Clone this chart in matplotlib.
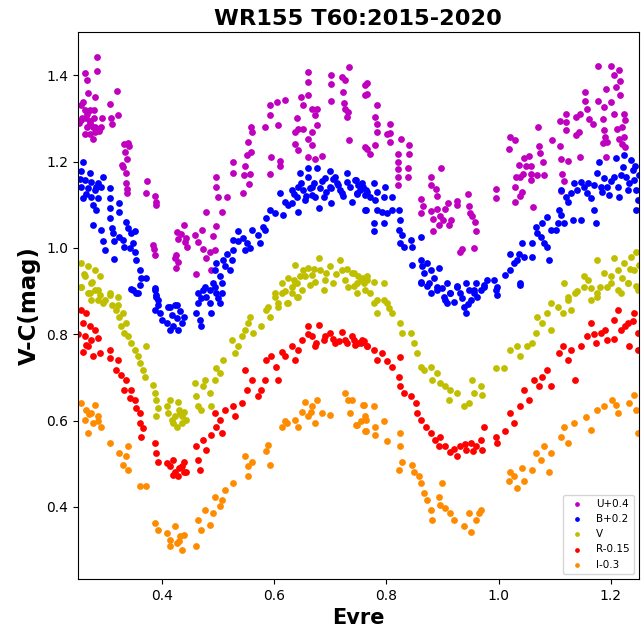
import matplotlib
matplotlib.use("Agg")
from matplotlib import pyplot as plt

# U+0.4
u_x = [0.262, 0.267, 0.268, 0.259, 0.262, 0.272, 0.281, 0.279, 0.256, 0.264, 0.272, 0.267, 0.276, 0.281, 0.287,
       0.262, 0.272, 0.281, 0.276, 0.284, 0.284, 0.307, 0.309, 0.310, 0.320, 0.322, 0.252, 0.255, 0.258, 0.266,
       0.271, 0.278, 0.283, 0.288, 0.291, 0.293,
       0.333, 0.339, 0.341, 0.334, 0.338, 0.328, 0.331, 0.336, 0.335, 0.337, 0.338,
       0.373, 0.371, 0.387, 0.390, 0.389, 0.384, 0.386, 0.388,
       0.439, 0.426, 0.434, 0.443, 0.429, 0.441, 0.445, 0.425, 0.429, 0.425, 0.423,
       0.458, 0.471, 0.464, 0.473, 0.479, 0.485, 0.494, 0.461, 0.488, 0.479, 0.491, 0.497, 0.506, 0.500, 0.516,
       0.497, 0.497,
       0.527, 0.527, 0.546, 0.548, 0.556, 0.551, 0.558, 0.554, 0.560, 0.559, 0.545, 0.555,
       0.584, 0.593, 0.593, 0.606, 0.605, 0.620, 0.594, 0.593, 0.611, 0.611,
       0.648, 0.661, 0.661, 0.661, 0.652, 0.667, 0.676, 0.673, 0.640, 0.643, 0.637, 0.652, 0.667, 0.661, 0.637,
       0.667, 0.643, 0.661, 0.673, 0.685, 0.676,
       0.702, 0.701, 0.702, 0.720, 0.726, 0.733, 0.722, 0.724, 0.726, 0.732, 0.729, 0.733, 0.762, 0.762, 0.762,
       0.765, 0.765, 0.783, 0.780, 0.783, 0.783, 0.780, 0.765, 0.771, 0.806, 0.801, 0.807, 0.806, 0.826, 0.841,
       0.820, 0.841, 0.820, 0.820, 0.838, 0.820, 0.820, 0.838,
       0.879, 0.879, 0.898, 0.888, 0.891, 0.862, 0.865, 0.862, 0.879, 0.883, 0.891, 0.896, 0.904, 0.893, 0.911,
       0.883, 0.900, 0.916, 0.910,
       0.926, 0.925, 0.946, 0.947, 0.949, 0.952, 0.958, 0.960, 0.935, 0.932, 0.956, 0.996, 0.996,
       1.020, 1.030, 1.018, 1.045, 1.054, 1.036, 1.048, 1.057, 1.031, 1.038, 1.044, 1.057, 1.029, 1.041, 1.038,
       1.029, 1.062, 1.057,
       1.071, 1.072, 1.074, 1.080, 1.081, 1.069, 1.096, 1.109, 1.109, 1.111, 1.113, 1.117, 1.123, 1.121, 1.121,
       1.138, 1.138, 1.121, 1.112,
       1.145, 1.144, 1.145, 1.154, 1.154, 1.157, 1.162, 1.168, 1.177, 1.177, 1.188, 1.186, 1.191, 1.188, 1.190,
       1.186, 1.194,
       1.200, 1.205, 1.214, 1.217, 1.200, 1.191, 1.205, 1.210, 1.217, 1.223, 1.220, 1.223, 1.226, 1.215, 1.220,
       1.226, 1.211]
u_y = [1.404, 1.388, 1.358, 1.339, 1.320, 1.320, 1.350, 1.320, 1.297, 1.300, 1.293, 1.280, 1.280, 1.280, 1.276,
       1.265, 1.265, 1.268, 1.253, 1.442, 1.410, 1.333, 1.302, 1.287, 1.364, 1.307, 1.290, 1.330, 1.300, 1.310,
       1.290, 1.300, 1.270, 1.270, 1.280, 1.300,
       1.241, 1.243, 1.236, 1.222, 1.205, 1.192, 1.188, 1.173, 1.150, 1.136, 1.128,
       1.156, 1.127, 1.121, 1.106, 1.100, 1.007, 0.997, 0.984,
       1.052, 1.036, 1.032, 1.024, 1.020, 1.013, 1.002, 0.983, 0.968, 0.953, 0.976,
       1.030, 1.041, 1.013, 0.997, 0.976, 0.991, 0.995, 0.940, 0.948, 1.083, 1.027, 1.050, 1.083, 1.117, 1.117,
       1.140, 1.165,
       1.199, 1.174, 1.168, 1.190, 1.171, 1.215, 1.222, 1.245, 1.268, 1.280, 1.128, 1.147,
       1.280, 1.307, 1.330, 1.284, 1.338, 1.343, 1.211, 1.172, 1.202, 1.190,
       1.350, 1.408, 1.385, 1.354, 1.330, 1.322, 1.322, 1.307, 1.300, 1.276, 1.268, 1.276, 1.268, 1.253, 1.241,
       1.238, 1.226, 1.211, 1.207, 1.213, 1.284,
       1.400, 1.379, 1.340, 1.395, 1.389, 1.420, 1.360, 1.336, 1.322, 1.314, 1.303, 1.250, 1.377, 1.354, 1.233,
       1.381, 1.356, 1.331, 1.303, 1.288, 1.268, 1.238, 1.228, 1.217, 1.288, 1.264, 1.266, 1.245, 1.252, 1.239,
       1.218, 1.218, 1.198, 1.183, 1.185, 1.164, 1.145, 1.165,
       1.164, 1.146, 1.184, 1.137, 1.120, 1.113, 1.097, 1.082, 1.086, 1.067, 1.090, 1.075, 1.090, 1.052, 1.054,
       1.039, 1.064, 1.064, 1.105,
       1.109, 1.099, 1.124, 1.096, 1.082, 1.074, 1.059, 1.039, 0.997, 0.990, 0.999, 1.136, 1.116,
       1.258, 1.250, 1.229, 1.209, 1.214, 1.192, 1.189, 1.189, 1.164, 1.164, 1.172, 1.157, 1.141, 1.130, 1.120,
       1.107, 1.095, 1.172,
       1.280, 1.236, 1.220, 1.198, 1.170, 1.170, 1.249, 1.294, 1.236, 1.205, 1.172, 1.155, 1.201, 1.272, 1.291,
       1.303, 1.262, 1.311, 1.131,
       1.311, 1.268, 1.210, 1.360, 1.341, 1.322, 1.299, 1.288, 1.421, 1.341, 1.327, 1.299, 1.368, 1.272, 1.257,
       1.242, 1.245,
       1.421, 1.400, 1.412, 1.387, 1.338, 1.210, 1.311, 1.372, 1.354, 1.311, 1.280, 1.257, 1.296, 1.253, 1.241,
       1.234, 1.276]

# B+0.2
b_x = [0.259, 0.256, 0.271, 0.262, 0.274, 0.286, 0.295, 0.256, 0.268, 0.280, 0.292, 0.259, 0.274, 0.286, 0.277,
       0.283, 0.307, 0.307, 0.307, 0.324, 0.324, 0.307, 0.277, 0.292, 0.310, 0.312, 0.295, 0.298, 0.315, 0.324,
       0.330, 0.336, 0.339, 0.345, 0.351, 0.333, 0.342, 0.348, 0.351, 0.315, 0.354, 0.360, 0.363, 0.372, 0.360,
       0.345, 0.354, 0.387, 0.390, 0.393, 0.414, 0.426,
       0.348, 0.357, 0.387, 0.390, 0.393, 0.387, 0.396, 0.399, 0.408, 0.411, 0.417, 0.423, 0.426, 0.429, 0.432,
       0.435, 0.440, 0.414, 0.420, 0.461, 0.464, 0.467, 0.470, 0.473, 0.479, 0.485, 0.488, 0.494, 0.497, 0.503,
       0.506, 0.500,
       0.464, 0.470, 0.476, 0.485, 0.491, 0.494, 0.497, 0.503, 0.509, 0.512, 0.515, 0.524, 0.527, 0.521, 0.527,
       0.536, 0.506,
       0.536, 0.545, 0.551, 0.548, 0.557, 0.560, 0.571, 0.574, 0.580, 0.583, 0.586, 0.592, 0.601, 0.610, 0.616,
       0.619, 0.631, 0.631, 0.640, 0.643, 0.643, 0.646, 0.652, 0.655, 0.661, 0.664, 0.667, 0.670, 0.673, 0.676,
       0.679, 0.682, 0.688, 0.690, 0.699, 0.699, 0.702, 0.708, 0.711, 0.717, 0.720, 0.729, 0.729, 0.738, 0.744,
       0.750, 0.753, 0.759, 0.762, 0.762, 0.702, 0.661,
       0.625, 0.635, 0.648, 0.657, 0.668, 0.685, 0.693, 0.705, 0.714, 0.723, 0.735, 0.748, 0.757, 0.766,
       0.745, 0.754, 0.748, 0.763, 0.771, 0.777, 0.780, 0.783, 0.798, 0.795, 0.810, 0.763, 0.783, 0.792, 0.801,
       0.810, 0.777, 0.795, 0.822, 0.825, 0.777, 0.822, 0.828, 0.825, 0.831, 0.843, 0.846, 0.861, 0.846, 0.861,
       0.864, 0.867, 0.873, 0.879, 0.861, 0.876, 0.884, 0.890, 0.893, 0.899, 0.908, 0.914, 0.926, 0.932, 0.941,
       0.947, 0.956, 0.959, 0.968, 0.974, 0.980, 0.992, 0.998,
       0.861, 0.873, 0.879, 0.890, 0.902, 0.908, 0.914, 0.926, 0.938, 0.941, 0.950, 0.956, 0.962, 0.974, 0.995,
       0.998, 1.039, 0.905, 0.920, 0.935, 0.945,
       1.012, 1.021, 1.027, 1.021, 1.033, 1.039, 1.042, 1.036, 1.045, 1.060, 1.060, 1.069, 1.066, 1.075, 1.078,
       1.081, 1.087, 1.090, 1.087, 1.093, 1.102, 1.105, 1.108, 1.111, 1.117, 1.111, 1.120, 1.123, 1.129, 1.132,
       1.135, 1.146, 1.140, 1.146, 1.152, 1.158, 1.164, 1.170, 1.173, 1.170, 1.176, 1.179, 1.182, 1.188, 1.194,
       1.197, 1.206, 1.209, 1.212, 1.215, 1.221, 1.224, 1.227, 1.230, 1.236, 1.239, 1.242, 1.245, 1.248, 1.245,
       1.160, 1.185, 1.200, 1.218, 1.233, 1.243, 1.250, 0.253, 0.265, 0.283]
b_y = [1.200, 1.177, 1.173, 1.157, 1.153, 1.150, 1.165, 1.142, 1.138, 1.134, 1.142, 1.115, 1.119, 1.115, 1.100,
       1.088, 1.138, 1.115, 1.092, 1.103, 1.084, 1.069, 1.053, 1.042, 1.046, 1.034, 1.015, 0.995, 1.015, 1.026,
       1.019, 1.061, 1.046, 1.034, 1.038, 1.003, 0.999, 1.011, 0.991, 0.974, 0.972, 0.949, 0.930, 0.930, 0.914,
       0.904, 0.895, 0.903, 0.887, 0.868, 0.864, 0.868,
       0.903, 0.895, 0.907, 0.891, 0.880, 0.856, 0.849, 0.833, 0.826, 0.864, 0.845, 0.868, 0.837, 0.810, 0.853,
       0.826, 0.841, 0.810, 0.818, 0.849, 0.872, 0.833, 0.818, 0.903, 0.887, 0.872, 0.849, 0.910, 0.895, 0.872,
       0.918, 0.883,
       0.895, 0.883, 0.910, 0.903, 0.918, 0.949, 0.964, 0.934, 0.972, 0.957, 0.987, 0.972, 0.995, 0.949, 1.019,
       1.015, 0.895,
       1.038, 1.022, 1.011, 0.995, 0.999, 1.042, 1.030, 1.011, 1.049, 1.042, 1.069, 1.088, 1.080, 1.127, 1.076,
       1.107, 1.103, 1.134, 1.119, 1.142, 1.084, 1.173, 1.134, 1.111, 1.165, 1.138, 1.123, 1.150, 1.119, 1.184,
       1.092, 1.138, 1.119, 1.161, 1.177, 1.142, 1.103, 1.165, 1.150, 1.134, 1.127, 1.173, 1.153, 1.107, 1.157,
       1.146, 1.134, 1.142, 1.123, 1.088, 1.138, 1.184,
       1.100, 1.125, 1.150, 1.120, 1.140, 1.155, 1.130, 1.160, 1.145, 1.120, 1.140, 1.125, 1.150, 1.130,
       1.157, 1.142, 1.127, 1.134, 1.119, 1.150, 1.111, 1.130, 1.142, 1.119, 1.119, 1.088, 1.088, 1.084, 1.080,
       1.088, 1.057, 1.057, 1.088, 1.065, 1.038, 1.042, 1.030, 1.011, 1.003, 1.019, 1.003, 1.026, 0.961, 0.972,
       0.957, 0.941, 0.964, 0.949, 0.922, 0.918, 0.930, 0.910, 0.953, 0.906, 0.918, 0.895, 0.910, 0.895, 0.918,
       0.903, 0.895, 0.918, 0.903, 0.914, 0.926, 0.926, 0.910,
       0.918, 0.911, 0.895, 0.903, 0.887, 0.872, 0.895, 0.911, 0.864, 0.849, 0.880, 0.903, 0.887, 0.910, 0.903,
       0.891, 0.914, 0.880, 0.875, 0.885, 0.870,
       0.937, 0.949, 0.964, 0.987, 0.972, 0.918, 1.011, 0.987, 0.980, 0.980, 1.011, 1.034, 1.049, 1.026, 1.057,
       1.011, 1.003, 0.972, 1.072, 1.042, 1.042, 1.057, 1.088, 1.076, 1.057, 1.134, 1.119, 1.107, 1.127, 1.065,
       1.150, 1.065, 1.134, 1.153, 1.142, 1.127, 1.115, 1.146, 1.057, 1.088, 1.173, 1.200, 1.142, 1.161, 1.142,
       1.122, 1.165, 1.208, 1.142, 1.119, 1.188, 1.215, 1.165, 1.134, 1.204, 1.180, 1.157, 1.134, 1.111, 1.088,
       1.150, 1.130, 1.155, 1.170, 1.150, 1.190, 1.170, 1.160, 1.125, 1.140]

# V
v_x = [0.256, 0.268, 0.280, 0.289, 0.262, 0.274, 0.256, 0.286, 0.307, 0.321, 0.271, 0.298, 0.321,
       0.260, 0.275, 0.290,
       0.256, 0.268, 0.280, 0.286, 0.295, 0.274, 0.307, 0.310, 0.318, 0.324, 0.330, 0.327, 0.336, 0.333, 0.339,
       0.345, 0.351, 0.357, 0.360, 0.366, 0.372, 0.369, 0.384, 0.387, 0.390, 0.393, 0.390, 0.408, 0.411, 0.417,
       0.423, 0.426, 0.432, 0.435, 0.440, 0.443, 0.429, 0.414, 0.458, 0.461, 0.464, 0.470, 0.473, 0.476, 0.485,
       0.488, 0.494, 0.497, 0.503, 0.509, 0.524, 0.530, 0.536, 0.542, 0.548, 0.554, 0.557, 0.562, 0.577, 0.586,
       0.592, 0.601, 0.607, 0.613, 0.622, 0.631, 0.640, 0.637, 0.420, 0.435, 0.430,
       0.601, 0.607, 0.613, 0.625, 0.631, 0.637, 0.640, 0.646, 0.649, 0.652, 0.661, 0.664, 0.667, 0.673, 0.679,
       0.682, 0.688, 0.693, 0.699, 0.705, 0.717, 0.720, 0.726, 0.732, 0.738, 0.747, 0.759, 0.762, 0.589, 0.625,
       0.643, 0.620, 0.635, 0.655, 0.670, 0.690, 0.710, 0.730, 0.750, 0.765,
       0.742, 0.754, 0.765, 0.777, 0.748, 0.771, 0.795, 0.783, 0.801,
       0.742, 0.760, 0.777, 0.783, 0.795, 0.804, 0.810, 0.825, 0.828, 0.843, 0.849, 0.855, 0.861, 0.867, 0.879,
       0.882, 0.890, 0.896, 0.905, 0.914, 0.911, 0.926, 0.938, 0.947, 0.953, 0.956, 0.968, 0.971, 0.995, 1.010,
       1.021, 1.033, 1.039, 1.051, 1.060, 1.066, 1.069, 1.078, 1.087, 1.093, 1.105, 1.114, 1.123, 1.129, 1.137,
       1.152, 1.164, 1.176, 1.194, 1.212, 1.230, 1.245,
       1.117, 1.123, 1.152, 1.176, 1.188, 1.206, 1.212, 1.224, 1.236, 1.245, 1.242, 1.230, 1.200, 1.164, 1.248,
       1.093, 1.176, 1.218, 1.140, 1.160, 1.180, 1.200, 1.220, 1.235, 1.250]
v_y = [0.964, 0.957, 0.949, 0.934, 0.934, 0.918, 0.910, 0.903, 0.891, 0.887, 0.895, 0.880, 0.868,
       0.940, 0.920, 0.890,
       0.910, 0.895, 0.903, 0.880, 0.872, 0.880, 0.895, 0.868, 0.856, 0.841, 0.849, 0.818, 0.826, 0.803, 0.795,
       0.779, 0.764, 0.749, 0.733, 0.718, 0.772, 0.702, 0.683, 0.664, 0.648, 0.629, 0.610, 0.633, 0.617, 0.602,
       0.610, 0.586, 0.617, 0.594, 0.621, 0.602, 0.644, 0.648, 0.687, 0.656, 0.633, 0.625, 0.679, 0.694, 0.664,
       0.633, 0.694, 0.721, 0.710, 0.741, 0.787, 0.756, 0.772, 0.795, 0.810, 0.826, 0.841, 0.803, 0.818, 0.856,
       0.841, 0.887, 0.864, 0.895, 0.872, 0.910, 0.887, 0.918, 0.595, 0.610, 0.625,
       0.895, 0.872, 0.918, 0.930, 0.895, 0.961, 0.918, 0.934, 0.903, 0.949, 0.953, 0.914, 0.937, 0.922, 0.976,
       0.949, 0.903, 0.941, 0.957, 0.918, 0.972, 0.949, 0.926, 0.910, 0.941, 0.918, 0.930, 0.903, 0.864, 0.872,
       0.887, 0.900, 0.925, 0.935, 0.950, 0.925, 0.940, 0.950, 0.935, 0.925,
       0.941, 0.926, 0.934, 0.922, 0.895, 0.895, 0.918, 0.880, 0.872,
       0.911, 0.918, 0.872, 0.849, 0.880, 0.860, 0.849, 0.826, 0.802, 0.802, 0.779, 0.756, 0.725, 0.718, 0.725,
       0.695, 0.710, 0.687, 0.679, 0.671, 0.648, 0.663, 0.633, 0.641, 0.694, 0.664, 0.679, 0.660, 0.721, 0.721,
       0.764, 0.772, 0.749, 0.772, 0.779, 0.802, 0.841, 0.826, 0.849, 0.810, 0.864, 0.849, 0.880, 0.856, 0.895,
       0.910, 0.880, 0.895, 0.910, 0.903, 0.918, 0.911,
       0.918, 0.887, 0.934, 0.972, 0.941, 0.976, 0.949, 0.964, 0.980, 0.991, 0.949, 0.918, 0.918, 0.906, 0.903,
       0.872, 0.887, 0.895, 0.900, 0.925, 0.910, 0.935, 0.930, 0.950, 0.960]

# R-0.15
r_x = [0.256, 0.265, 0.259, 0.271, 0.280, 0.262, 0.274, 0.286, 0.268, 0.259, 0.277, 0.289, 0.307, 0.307, 0.321,
       0.318, 0.327, 0.336, 0.333, 0.345, 0.342, 0.351, 0.354, 0.360, 0.360, 0.366, 0.363, 0.387, 0.390, 0.393,
       0.408, 0.414, 0.423, 0.429, 0.435, 0.440, 0.420, 0.443, 0.461, 0.464, 0.467, 0.473, 0.479, 0.488, 0.494,
       0.497, 0.503, 0.506, 0.512, 0.527, 0.530, 0.542, 0.548, 0.551, 0.560, 0.571, 0.577, 0.583, 0.586, 0.595,
       0.604, 0.607, 0.613, 0.619, 0.631, 0.637, 0.643, 0.649, 0.661, 0.667, 0.673, 0.679, 0.688, 0.699, 0.708,
       0.720, 0.726, 0.738, 0.744, 0.756, 0.765,
       0.250, 0.265, 0.420, 0.430, 0.440, 0.660, 0.675, 0.690, 0.705, 0.715, 0.730, 0.750, 0.760,
       0.742, 0.754, 0.765, 0.777, 0.783, 0.792, 0.801, 0.810, 0.825, 0.822, 0.825, 0.831, 0.843, 0.852, 0.855,
       0.861, 0.870, 0.879, 0.887, 0.896, 0.893, 0.905, 0.914, 0.926, 0.932, 0.941, 0.950, 0.959, 0.968, 0.974,
       0.971, 0.995, 0.998, 1.012, 1.021, 1.027, 1.039, 1.045, 1.054, 1.063, 1.072, 1.078, 1.087, 1.093, 1.108,
       1.114, 1.123, 1.129, 1.137, 1.146, 1.158, 1.164, 1.173, 1.182, 1.194, 1.206, 1.212, 1.218, 1.230, 1.233,
       1.242, 1.248, 1.248, 0.920, 0.940, 0.955, 1.170, 1.190, 1.205, 1.225, 1.240]
r_y = [0.856, 0.849, 0.826, 0.818, 0.810, 0.795, 0.787, 0.791, 0.772, 0.760, 0.749, 0.756, 0.764, 0.745, 0.741,
       0.718, 0.706, 0.694, 0.671, 0.671, 0.652, 0.648, 0.629, 0.617, 0.594, 0.583, 0.563, 0.548, 0.525, 0.505,
       0.501, 0.494, 0.482, 0.471, 0.494, 0.505, 0.509, 0.482, 0.540, 0.509, 0.486, 0.556, 0.532, 0.567, 0.617,
       0.586, 0.602, 0.571, 0.625, 0.633, 0.610, 0.641, 0.718, 0.671, 0.694, 0.656, 0.671, 0.694, 0.741, 0.749,
       0.725, 0.694, 0.760, 0.749, 0.772, 0.741, 0.764, 0.787, 0.818, 0.795, 0.772, 0.822, 0.787, 0.803, 0.779,
       0.806, 0.787, 0.795, 0.776, 0.787, 0.772,
       0.800, 0.775, 0.475, 0.490, 0.480, 0.800, 0.780, 0.795, 0.790, 0.785, 0.780, 0.780, 0.785,
       0.787, 0.779, 0.772, 0.764, 0.741, 0.756, 0.737, 0.725, 0.748, 0.702, 0.679, 0.664, 0.656, 0.641, 0.617,
       0.602, 0.586, 0.571, 0.556, 0.563, 0.540, 0.540, 0.528, 0.517, 0.540, 0.532, 0.548, 0.540, 0.556, 0.586,
       0.532, 0.563, 0.548, 0.575, 0.617, 0.594, 0.633, 0.671, 0.648, 0.694, 0.679, 0.702, 0.718, 0.679, 0.756,
       0.772, 0.741, 0.764, 0.694, 0.772, 0.795, 0.826, 0.779, 0.803, 0.787, 0.833, 0.856, 0.810, 0.826, 0.772,
       0.849, 0.803, 0.764, 0.535, 0.545, 0.530, 0.800, 0.810, 0.790, 0.820, 0.830]

# I-0.3
i_x = [0.256, 0.265, 0.280, 0.274, 0.286, 0.262, 0.277, 0.292, 0.268, 0.307, 0.324, 0.339, 0.336, 0.330, 0.339,
       0.360, 0.372, 0.387, 0.393, 0.408, 0.414, 0.423, 0.426, 0.432, 0.435, 0.440, 0.461, 0.464, 0.470, 0.476,
       0.485, 0.491, 0.494, 0.503, 0.506, 0.512, 0.527, 0.548, 0.554, 0.560, 0.554, 0.586, 0.592, 0.589, 0.613,
       0.622, 0.637, 0.643, 0.649, 0.655, 0.661, 0.667, 0.673, 0.676, 0.685, 0.699, 0.726, 0.732, 0.735, 0.747,
       0.759, 0.762, 0.762, 0.270, 0.285, 0.415, 0.430, 0.620, 0.665, 0.755,
       0.739, 0.760, 0.777, 0.745, 0.763, 0.780, 0.795, 0.763, 0.780, 0.801, 0.825, 0.825, 0.828, 0.822, 0.846,
       0.849, 0.858, 0.861, 0.867, 0.873, 0.879, 0.882, 0.893, 0.899, 0.905, 0.914, 0.920, 0.938, 0.947, 0.950,
       0.959, 0.965, 0.968, 1.018, 1.027, 1.033, 1.042, 1.045, 1.060, 1.066, 1.075, 1.081, 1.090, 1.093, 1.111,
       1.117, 1.123, 1.135, 1.155, 1.164, 1.176, 1.188, 1.203, 1.212, 1.233, 1.242, 1.245, 1.248,
       0.895, 1.020, 1.210]
i_y = [0.641, 0.625, 0.636, 0.617, 0.610, 0.602, 0.594, 0.586, 0.571, 0.548, 0.525, 0.540, 0.517, 0.498, 0.486,
       0.448, 0.448, 0.363, 0.347, 0.340, 0.324, 0.355, 0.316, 0.332, 0.301, 0.336, 0.309, 0.370, 0.347, 0.393,
       0.359, 0.386, 0.424, 0.401, 0.417, 0.440, 0.455, 0.517, 0.494, 0.505, 0.471, 0.529, 0.498, 0.544, 0.586,
       0.594, 0.602, 0.586, 0.621, 0.644, 0.610, 0.633, 0.594, 0.648, 0.617, 0.613, 0.663, 0.648, 0.617, 0.590,
       0.636, 0.610, 0.575, 0.615, 0.600, 0.310, 0.320, 0.600, 0.620, 0.600,
       0.648, 0.636, 0.633, 0.590, 0.602, 0.586, 0.598, 0.575, 0.567, 0.552, 0.571, 0.540, 0.505, 0.486, 0.498,
       0.482, 0.471, 0.455, 0.432, 0.417, 0.393, 0.370, 0.424, 0.455, 0.397, 0.386, 0.370, 0.355, 0.386, 0.343,
       0.370, 0.386, 0.393, 0.459, 0.471, 0.444, 0.490, 0.459, 0.486, 0.524, 0.509, 0.540, 0.482, 0.524, 0.563,
       0.586, 0.548, 0.594, 0.609, 0.579, 0.625, 0.633, 0.648, 0.617, 0.641, 0.659, 0.625, 0.571,
       0.405, 0.480, 0.635]

series = [
    (u_x, u_y, "m", "U+0.4"),
    (b_x, b_y, "b", "B+0.2"),
    (v_x, v_y, "y", "V"),
    (r_x, r_y, "r", "R-0.15"),
    (i_x, i_y, "darkorange", "I-0.3"),
]

fig = plt.figure(figsize=(6.44, 6.36), dpi=100)
ax = fig.add_axes([0.121, 0.0896, 0.871, 0.860])

for xs, ys, c, lab in series:
    ax.scatter(xs, ys, s=24, c=c, label=lab, linewidths=0)

ax.set_xlim(0.25, 1.25)
ax.set_ylim(0.233, 1.50)
ax.set_xticks([0.4, 0.6, 0.8, 1.0, 1.2])
ax.set_yticks([0.4, 0.6, 0.8, 1.0, 1.2, 1.4])
ax.set_title("WR155 T60:2015-2020", fontsize=16.2, fontweight="bold", pad=5)
ax.set_xlabel("Evre", fontsize=15, fontweight="bold")
ax.set_ylabel("V-C(mag)", fontsize=16.5, fontweight="bold")
ax.legend(loc="lower right", fontsize=7.5, markerscale=0.7)

fig.savefig("out.png", dpi=100)
